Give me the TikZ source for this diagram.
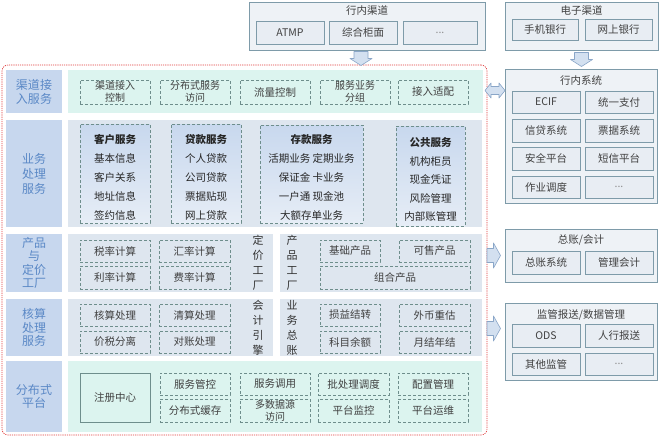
\documentclass[tikz,border=0pt]{standalone}
\usepackage{fontspec}
\setmainfont{Noto Sans CJK SC}
\usetikzlibrary{calc}
\definecolor{labfill}{HTML}{C7D7EE}
\definecolor{labtext}{HTML}{5A88C6}
\definecolor{mint}{HTML}{DCF4EF}
\definecolor{panel}{HTML}{DEE6EF}
\definecolor{itemline}{HTML}{6E8E8C}
\definecolor{txt}{HTML}{404040}
\definecolor{rfill}{HTML}{EEF2F6}
\definecolor{rline}{HTML}{7E9BA9}
\definecolor{rin}{HTML}{E8EDF3}
\definecolor{arrfill}{HTML}{D3E0F0}
\definecolor{arrline}{HTML}{8AA6C8}
\definecolor{redd}{HTML}{E03C3C}
\definecolor{grptop}{HTML}{C8D8EE}
\definecolor{grpbot}{HTML}{E6EDF6}
\newcommand\mybox[7]{\node[#6, minimum width={#4pt-#2pt}, minimum height={#5pt-#3pt}] (#1) at ({(#2+#4)/2},{(#3+#5)/2}) {#7};}
\tikzset{
 base/.style={inner sep=0pt, outer sep=0pt, align=center, text=txt, font=\fontsize{10.5}{12}\selectfont},
 lab/.style={base, fill=labfill, text=labtext, font=\fontsize{12}{14}\selectfont},
 mintbg/.style={base, fill=mint},
 greybg/.style={base, fill=panel},
 item/.style={base, draw=itemline, densely dashed, line width=0.6pt},
 itemsm/.style={item, font=\fontsize{10}{12}\selectfont},
 solitem/.style={base, draw=itemline, line width=0.8pt},
 grp/.style={base, draw=itemline, densely dashed, line width=0.6pt, top color=grptop, bottom color=grpbot},
 grptxt/.style={base, font=\fontsize{10.5}{19}\selectfont, text=black!85},
 vtxt/.style={base, font=\fontsize{11}{15}\selectfont, text=black!80},
 rbox/.style={base, draw=rline, fill=rfill, line width=0.8pt},
 rinner/.style={base, draw=rline, fill=rin, line width=0.8pt},
 rtitle/.style={base},
 arr/.style={draw=arrline, fill=arrfill, line width=0.6pt, line join=round},
 mainbox/.style={base, draw=redd, dash pattern=on 1.2pt off 1pt, line width=0.6pt, rounded corners=6pt},
}
\begin{document}
\begin{tikzpicture}[x=1pt,y=-1pt]
\useasboundingbox[fill=white] (0,0) rectangle (660,437);
% ---------- top channels ----------
\mybox{hn}{249}{2}{485}{50}{rbox}{}
\node[rtitle] (hnt) at (367,10.5) {行内渠道};
\mybox{atmp}{256}{21}{324}{44}{rinner}{ATMP}
\mybox{zhgm}{329}{21}{397}{44}{rinner}{综合柜面}
\mybox{hnx}{403}{21}{477}{44}{rinner}{\textcolor{txt!60}{...}}
\mybox{dz}{505}{2}{658}{50}{rbox}{}
\node[rtitle] (dzt) at (581.5,10.5) {电子渠道};
\mybox{sjyh}{512}{19}{578}{40}{rinner}{手机银行}
\mybox{wsyh}{585}{19}{652}{40}{rinner}{网上银行}
% ---------- right systems ----------
\mybox{xn}{505}{69}{657}{203}{rbox}{}
\node[rtitle] (xnt) at (581,80) {行内系统};
\mybox{ecif}{512}{91}{580}{113}{rinner}{ECIF}
\mybox{tyzf}{585}{91}{653}{113}{rinner}{统一支付}
\mybox{xdxt}{512}{119}{580}{142}{rinner}{信贷系统}
\mybox{pjxt}{585}{119}{653}{142}{rinner}{票据系统}
\mybox{aqpt}{512}{147}{580}{170}{rinner}{安全平台}
\mybox{dxpt}{585}{147}{653}{170}{rinner}{短信平台}
\mybox{zydd}{512}{176}{580}{198}{rinner}{作业调度}
\mybox{xnx}{585}{176}{653}{198}{rinner}{\textcolor{txt!60}{...}}
\mybox{zz}{505}{229}{657}{282}{rbox}{}
\node[rtitle] (zzt) at (581,240) {总账/会计};
\mybox{zzxt}{512}{251}{580}{274}{rinner}{总账系统}
\mybox{glkj}{585}{251}{653}{274}{rinner}{管理会计}
\mybox{jg}{505}{303}{657}{380}{rbox}{}
\node[rtitle] (jgt) at (581,315) {监管报送/数据管理};
\mybox{ods}{512}{324}{580}{347}{rinner}{ODS}
\mybox{hxbs}{585}{324}{653}{347}{rinner}{人行报送}
\mybox{qtjg}{512}{353}{580}{375}{rinner}{其他监管}
\mybox{jgx}{585}{353}{653}{375}{rinner}{\textcolor{txt!60}{...}}
% ---------- main box ----------
\mybox{main}{2}{65}{487}{435}{mainbox}{}
% row 1
\mybox{l1}{6}{70}{62}{113}{lab}{渠道接\\入服务}
\mybox{p1}{68}{70}{483}{113}{mintbg}{}
\mybox{q1}{80}{80}{150}{104}{itemsm}{渠道接入\\控制}
\mybox{q2}{160}{80}{230}{104}{itemsm}{分布式服务\\访问}
\mybox{q3}{240}{80}{310}{104}{item}{流量控制}
\mybox{q4}{320}{80}{390}{104}{itemsm}{服务业务\\分组}
\mybox{q5}{398}{80}{468}{104}{item}{接入适配}
% row 2
\mybox{l2}{6}{120}{62}{227}{lab, font=\fontsize{12}{15}\selectfont}{业务\\处理\\服务}
\mybox{p2}{68}{120}{482}{227}{greybg}{}
\mybox{g1}{80}{124}{150}{223}{grp}{}
\node[grptxt] (g1t) at ($(g1.center)+(0,3.5)$) {\textbf{客户服务}\\基本信息\\客户关系\\地址信息\\签约信息};
\mybox{g2}{171}{124}{241}{223}{grp}{}
\node[grptxt] (g2t) at ($(g2.center)+(0,3.5)$) {\textbf{贷款服务}\\个人贷款\\公司贷款\\票据贴现\\网上贷款};
\mybox{g3}{260}{125}{363}{223}{grp}{}
\node[grptxt] (g3t) at ($(g3.center)+(0,3.5)$) {\textbf{存款服务}\\活期业务\ 定期业务\\保证金\ 卡业务\\一户通\ 现金池\\大额存单业务};
\mybox{g4}{396}{126}{465}{226}{grp}{}
\node[grptxt, font=\fontsize{10.5}{18.5}\selectfont] (g4t) at ($(g4.center)+(0,3.5)$) {\textbf{公共服务}\\机构柜员\\现金凭证\\风险管理\\内部账管理};
% row 3
\mybox{l3}{6}{234}{62}{292}{lab, font=\fontsize{12}{13.5}\selectfont}{产品\\与\\定价\\工厂}
\mybox{p3a}{68}{234}{273}{292}{greybg}{}
\mybox{p3b}{280}{234}{482}{292}{greybg}{}
\mybox{slj}{80}{240}{150}{262}{item}{税率计算}
\mybox{hlj}{159}{240}{230}{262}{item}{汇率计算}
\mybox{llj}{80}{266}{150}{289}{item}{利率计算}
\mybox{flj}{159}{266}{230}{289}{item}{费率计算}
\node[vtxt] (djgc) at (258,263) {定\\价\\工\\厂};
\node[vtxt] (cpgc) at (292,263) {产\\品\\工\\厂};
\mybox{jccp}{320}{240}{380}{262}{item}{基础产品}
\mybox{kscp}{399}{240}{470}{262}{item}{可售产品}
\mybox{zhcp}{320}{266}{470}{289}{item}{组合产品}
% row 4
\mybox{l4}{6}{299}{62}{356}{lab, font=\fontsize{12}{13.5}\selectfont}{核算\\处理\\服务}
\mybox{p4a}{68}{299}{273}{356}{greybg}{}
\mybox{p4b}{280}{299}{482}{356}{greybg}{}
\mybox{hscl}{80}{304}{150}{326}{item}{核算处理}
\mybox{qscl}{159}{304}{230}{326}{item}{清算处理}
\mybox{jsfl}{80}{331}{150}{353}{item}{价税分离}
\mybox{dzcl}{159}{331}{230}{353}{item}{对账处理}
\node[vtxt] (kjyq) at (258,327.5) {会\\计\\引\\擎};
\node[vtxt] (ywzz) at (292,327.5) {业\\务\\总\\账};
\mybox{syjz}{320}{304}{380}{326}{item}{损益结转}
\mybox{wbzg}{399}{304}{470}{326}{item}{外币重估}
\mybox{kmye}{320}{331}{380}{353}{item}{科目余额}
\mybox{yjnj}{399}{331}{470}{353}{item}{月结年结}
% row 5
\mybox{l5}{6}{361}{62}{432}{lab, font=\fontsize{12}{13.5}\selectfont}{分布式\\平台}
\mybox{p5}{68}{361}{482}{432}{mintbg}{}
\mybox{zczx}{80}{373}{150}{422}{solitem}{注册中心}
\mybox{fwgk}{160}{373}{230}{395}{item}{服务管控}
\mybox{fbhc}{160}{399}{230}{422}{item}{分布式缓存}
\mybox{fwdy}{240}{373}{310}{395}{item}{服务调用}
\mybox{dsjy}{240}{399}{310}{422}{itemsm}{多数据源\\访问}
\mybox{pcld}{318}{373}{389}{395}{item}{批处理调度}
\mybox{ptjk}{318}{399}{389}{422}{item}{平台监控}
\mybox{pzgl}{398}{373}{468}{395}{item}{配置管理}
\mybox{ptyw}{398}{399}{468}{422}{item}{平台运维}
% ---------- block arrows ----------
\coordinate (da1) at ($(hn.south)+(-6,8.5)$);
\draw[arr] (da1) ++(-7,-7) -- ++(14,0) -- ++(0,7) -- ++(4,0) -- ++(-11,7) -- ++(-11,-7) -- ++(4,0) -- cycle;
\coordinate (da2) at ($(dz.south)+(0,9.5)$);
\draw[arr] (da2) ++(-7,-7) -- ++(14,0) -- ++(0,7) -- ++(4,0) -- ++(-11,7) -- ++(-11,-7) -- ++(4,0) -- cycle;
\coordinate (ba) at ($(xn.north west)+(-10,21.5)$);
\draw[arr] (ba) ++(-10,0) -- ++(6,-7.5) -- ++(0,3.5) -- ++(8,0) -- ++(0,-3.5) -- ++(6,7.5) -- ++(-6,7.5) -- ++(0,-3.5) -- ++(-8,0) -- ++(0,3.5) -- cycle;
\coordinate (ra1) at ($(zz.west)+(-11.5,0)$);
\draw[arr] (ra1) ++(-6.5,-7) -- ++(6.5,0) -- ++(0,-5.5) -- ++(7,12.5) -- ++(-7,12.5) -- ++(0,-5.5) -- ++(-6.5,0) -- cycle;
\coordinate (ra2) at ($(jg.north west)+(-11.5,25.5)$);
\draw[arr] (ra2) ++(-6.5,-7) -- ++(6.5,0) -- ++(0,-5.5) -- ++(7,12.5) -- ++(-7,12.5) -- ++(0,-5.5) -- ++(-6.5,0) -- cycle;
\end{tikzpicture}
\end{document}
